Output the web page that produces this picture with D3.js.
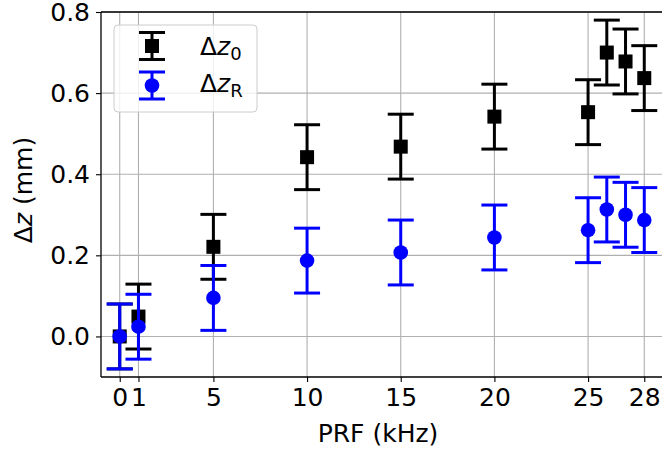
<!DOCTYPE html>
<html><head><meta charset="utf-8">
<script src="https://cdn.jsdelivr.net/npm/d3@7"></script>
<style>body{margin:0;background:#fff}svg{display:block;font-family:"DejaVu Sans",sans-serif}</style>
</head><body><svg id="c" width="662" height="450"></svg>
<script>
const prf = [0, 1, 5, 10, 15, 20, 25, 26, 27, 28];
const dz0 = [0.0, 0.049, 0.221, 0.442, 0.468, 0.542, 0.553, 0.700, 0.678, 0.637];
const dzR = [0.0, 0.024, 0.095, 0.187, 0.207, 0.244, 0.262, 0.313, 0.300, 0.287];
const err0 = [0.08, 0.08, 0.08, 0.08, 0.08, 0.08, 0.08, 0.08, 0.08, 0.08];
const errR = [0.08, 0.08, 0.08, 0.08, 0.08, 0.08, 0.08, 0.08, 0.08, 0.08];
const xTicks = [0, 1, 5, 10, 15, 20, 25, 28];
const yTicks = [0.0, 0.2, 0.4, 0.6, 0.8];

const FS = 25;
const svg = d3.select("#c");
const L = 101, R = 663, T = 12, B = 377;
const x = d3.scaleLinear().domain([-1, 29]).range([L, R]);
const y = d3.scaleLinear().domain([-0.1, 0.8]).range([B, T]);

// grid
const g = svg.append("g");
g.selectAll(".vg").data(xTicks).enter().append("line")
  .attr("x1", d => x(d)).attr("x2", d => x(d)).attr("y1", T).attr("y2", B)
  .attr("stroke", "#b0b0b0").attr("stroke-width", 1.1);
g.selectAll(".hg").data(yTicks).enter().append("line")
  .attr("x1", L).attr("x2", R).attr("y1", d => y(d)).attr("y2", d => y(d))
  .attr("stroke", "#b0b0b0").attr("stroke-width", 1.1);

// axes
const xAxis = d3.axisBottom(x).tickValues(xTicks).tickFormat(d3.format("d")).tickSizeOuter(0).tickSize(5).tickPadding(6);
const yAxis = d3.axisLeft(y).tickValues(yTicks).tickFormat(d3.format(".1f")).tickSizeOuter(0).tickSize(5).tickPadding(6);
const ax = svg.append("g").attr("transform", `translate(0,${B})`).call(xAxis);
const ay = svg.append("g").attr("transform", `translate(${L},0)`).call(yAxis);
[ax, ay].forEach(a => {
  a.select(".domain").remove();
  a.selectAll("line").attr("stroke", "#000").attr("stroke-width", 1.1);
  a.selectAll("text").attr("font-size", FS).attr("fill", "#000").attr("font-family", "DejaVu Sans");
});

function series(vals, errs, color, shape) {
  const s = svg.append("g");
  const cw = 13;
  prf.forEach((p, i) => {
    const cx = x(p), cy = y(vals[i]), y1 = y(vals[i] + errs[i]), y2 = y(vals[i] - errs[i]);
    s.append("line").attr("x1", cx).attr("x2", cx).attr("y1", y1).attr("y2", y2).attr("stroke", color).attr("stroke-width", 3);
    [y1, y2].forEach(yy => s.append("line").attr("x1", cx - cw).attr("x2", cx + cw).attr("y1", yy).attr("y2", yy).attr("stroke", color).attr("stroke-width", 3));
    if (shape === "square") s.append("rect").attr("x", cx - 7).attr("y", cy - 7).attr("width", 14).attr("height", 14).attr("fill", color);
    else s.append("circle").attr("cx", cx).attr("cy", cy).attr("r", 7.3).attr("fill", color);
  });
}
series(dz0, err0, "#000", "square");
series(dzR, errR, "#0000ff", "circle");

// spines
svg.append("line").attr("x1", L).attr("x2", L).attr("y1", T).attr("y2", B).attr("stroke", "#000").attr("stroke-width", 1.3);
svg.append("line").attr("x1", L).attr("x2", R).attr("y1", B).attr("y2", B).attr("stroke", "#000").attr("stroke-width", 1.3);
svg.append("line").attr("x1", L).attr("x2", R).attr("y1", T).attr("y2", T).attr("stroke", "#000").attr("stroke-width", 1.3);
svg.append("line").attr("x1", R).attr("x2", R).attr("y1", T).attr("y2", B).attr("stroke", "#000").attr("stroke-width", 1.3);

// axis labels
svg.append("text").attr("x", 378).attr("y", 442).attr("text-anchor", "middle")
  .attr("font-size", FS).text("PRF (kHz)");
const yl = svg.append("text").attr("transform", "translate(32,190) rotate(-90)").attr("text-anchor", "middle").attr("font-size", FS);
yl.append("tspan").text("Δ");
yl.append("tspan").attr("font-style", "italic").text("z");
yl.append("tspan").text(" (mm)");

// legend
const lg = svg.append("g");
lg.append("rect").attr("x", 114).attr("y", 25).attr("width", 143).attr("height", 87).attr("rx", 4)
  .attr("fill", "#fff").attr("fill-opacity", 0.8).attr("stroke", "#cccccc").attr("stroke-width", 1);
const entries = [{c: "#000", s: "square", sub: "0", yc: 46, base: 55}, {c: "#0000ff", s: "circle", sub: "R", yc: 85.5, base: 92}];
entries.forEach(e => {
  const hx = 152;
  lg.append("line").attr("x1", hx).attr("x2", hx).attr("y1", e.yc - 13.5).attr("y2", e.yc + 13.5).attr("stroke", e.c).attr("stroke-width", 3);
  [e.yc - 13.5, e.yc + 13.5].forEach(yy => lg.append("line").attr("x1", hx - 13).attr("x2", hx + 13).attr("y1", yy).attr("y2", yy).attr("stroke", e.c).attr("stroke-width", 3));
  if (e.s === "square") lg.append("rect").attr("x", hx - 7).attr("y", e.yc - 7).attr("width", 14).attr("height", 14).attr("fill", e.c);
  else lg.append("circle").attr("cx", hx).attr("cy", e.yc).attr("r", 7.3).attr("fill", e.c);
  const t = lg.append("text").attr("x", 200).attr("y", e.base).attr("font-size", FS);
  t.append("tspan").text("Δ");
  t.append("tspan").attr("font-style", "italic").text("z");
  t.append("tspan").attr("font-size", 18).attr("dy", 5).text(e.sub);
});
</script></body></html>
